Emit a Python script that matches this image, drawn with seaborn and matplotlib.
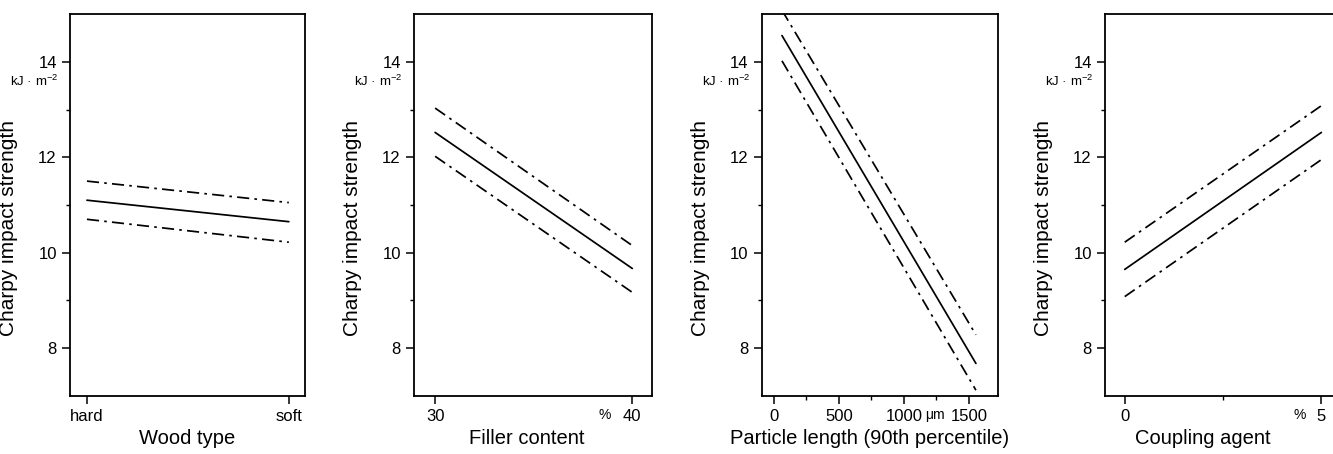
import numpy as np
import pandas as pd
import matplotlib
matplotlib.use("Agg")
import matplotlib.pyplot as plt
import matplotlib.transforms as mtransforms
from matplotlib.ticker import FixedLocator
import seaborn as sns

# values (mean line + upper/lower confidence bounds)
wood_types = ["hard", "soft"]
wood_mean = [11.10, 10.65]
wood_upper = [11.50, 11.05]
wood_lower = [10.70, 10.22]

filler_pct = [30, 40]
filler_mean = [12.52, 9.67]
filler_upper = [13.03, 10.15]
filler_lower = [12.02, 9.17]

particle_um = [62, 1554]
particle_mean = [14.55, 7.68]
particle_upper = [15.08, 8.28]
particle_lower = [14.02, 7.12]

coupling_pct = [0, 5]
coupling_mean = [9.65, 12.52]
coupling_upper = [10.22, 13.08]
coupling_lower = [9.08, 11.95]

y_label = "Charpy impact strength"
unit_label = "kJ · m$^{\\mathregular{-2}}$"

sns.set_style("ticks")
plt.rcParams['font.family'] = ['Liberation Sans', 'DejaVu Sans']
plt.rcParams['mathtext.fontset'] = 'custom'
plt.rcParams['mathtext.rm'] = 'Liberation Sans'
for key in ['text.color', 'axes.labelcolor', 'xtick.color', 'ytick.color', 'axes.edgecolor']:
    plt.rcParams[key] = 'black'

fig = plt.figure(figsize=(13.33, 4.54), dpi=100)

# axes boxes in figure fractions
bottom, height = 0.128, 0.841
boxes = [(0.0525, 0.1763), (0.3106, 0.1785), (0.5716, 0.1770), (0.829, 0.1785)]

panels = [
    dict(x=wood_types, m=wood_mean, u=wood_upper, l=wood_lower, xlim=(-0.084, 1.08),
         xticks=None, xminor=None, xlabel="Wood type", xlab_pos=0.5, unit=None),
    dict(x=filler_pct, m=filler_mean, u=filler_upper, l=filler_lower, xlim=(28.93, 41.0),
         xticks=[30, 40], xminor=None, xlabel="Filler content", xlab_pos=0.475, unit=("%", 38.6)),
    dict(x=particle_um, m=particle_mean, u=particle_upper, l=particle_lower, xlim=(-92, 1723),
         xticks=[0, 500, 1000, 1500], xminor=[250, 750, 1250],
         xlabel="Particle length (90th percentile)", xlab_pos=0.455, unit=("μm", 1238)),
    dict(x=coupling_pct, m=coupling_mean, u=coupling_upper, l=coupling_lower, xlim=(-0.5, 5.55),
         xticks=[0, 5], xminor=[2.5], xlabel="Coupling agent", xlab_pos=0.41, unit=("%", 4.44)),
]

dashdot = (0, (7, 3, 1.5, 3))

for (left, width), p in zip(boxes, panels):
    ax = fig.add_axes([left, bottom, width, height])
    df = pd.DataFrame({"x": list(p["x"]) * 3,
                       "y": p["u"] + p["m"] + p["l"],
                       "band": ["upper"] * 2 + ["mean"] * 2 + ["lower"] * 2})
    for band, ls in [("upper", dashdot), ("mean", "-"), ("lower", dashdot)]:
        sub = df[df["band"] == band]
        sns.lineplot(data=sub, x="x", y="y", ax=ax, color="black", lw=1.25,
                     linestyle=ls, sort=False, estimator=None)
    ax.set_xlim(*p["xlim"])
    ax.set_ylim(7, 15)
    ax.yaxis.set_major_locator(FixedLocator([8, 10, 12, 14]))
    ax.yaxis.set_minor_locator(FixedLocator([9, 11, 13]))
    if p["xticks"] is not None:
        ax.set_xticks(p["xticks"])
    if p["xminor"] is not None:
        ax.xaxis.set_minor_locator(FixedLocator(p["xminor"]))
    ax.tick_params(axis="both", which="major", labelsize=12, length=6, width=1.1, color="black",
                   labelcolor="black")
    ax.tick_params(axis="both", which="minor", length=3, width=1.0, color="black")
    for s in ax.spines.values():
        s.set_visible(True)
        s.set_color("black")
        s.set_linewidth(1.3)
    ax.set_ylabel(y_label, fontsize=15, color="black")
    ax.yaxis.set_label_coords(-0.22, 0.44)
    ax.set_xlabel(p["xlabel"], fontsize=14.5, va="top", color="black")
    ax.xaxis.set_label_coords(p["xlab_pos"], -0.088)

    trans_y = mtransforms.blended_transform_factory(ax.transAxes, ax.transData)
    ax.text(-0.05, 13.58, unit_label, transform=trans_y, ha="right", va="center", fontsize=9.5)
    if p["unit"] is not None:
        trans_x = mtransforms.blended_transform_factory(ax.transData, ax.transAxes)
        ax.text(p["unit"][1], -0.05, p["unit"][0], transform=trans_x, ha="center", va="center",
                fontsize=10)

fig.savefig("out.png", dpi=100)
